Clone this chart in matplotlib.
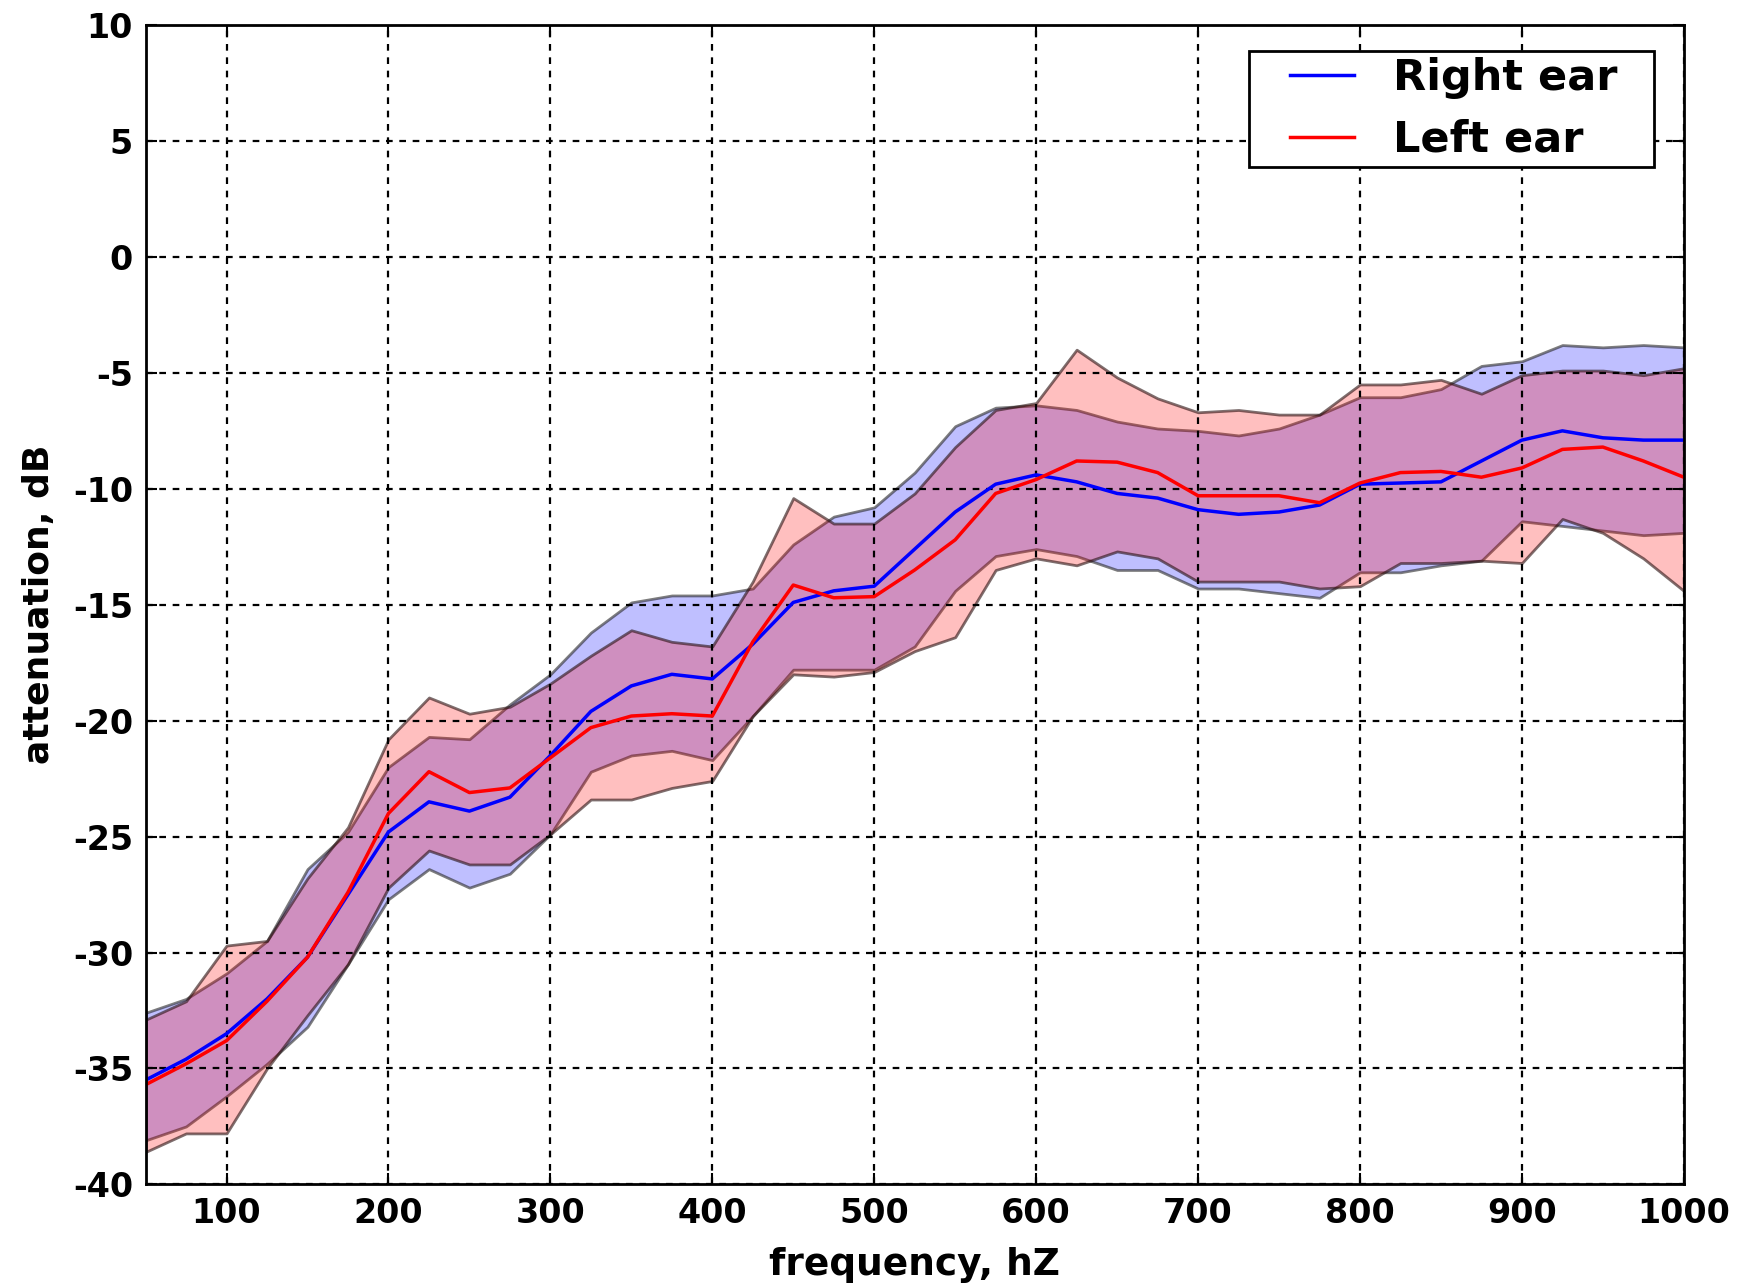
import matplotlib
matplotlib.use('Agg')
import matplotlib.pyplot as plt
from matplotlib.lines import Line2D
from matplotlib.legend_handler import HandlerLine2D

# frequency grid, hZ
freq = list(range(50, 1001, 25))

right_mean = [-35.5, -34.6, -33.5, -32.0, -30.2, -27.5, -24.8, -23.5, -23.9, -23.3,
              -21.5, -19.6, -18.5, -18.0, -18.2, -16.7, -14.9, -14.4, -14.2, -12.6,
              -11.0, -9.8, -9.4, -9.7, -10.2, -10.4, -10.9, -11.1, -11.0, -10.7,
              -9.8, -9.75, -9.7, -8.8, -7.9, -7.5, -7.8, -7.9, -7.9]
right_upper = [-32.6, -32.0, -30.9, -29.5, -26.4, -24.8, -22.0, -20.7, -20.8, -19.3,
               -18.0, -16.2, -14.9, -14.6, -14.6, -14.3, -12.4, -11.2, -10.8, -9.3,
               -7.3, -6.5, -6.4, -6.6, -7.1, -7.4, -7.5, -7.7, -7.4, -6.8,
               -6.05, -6.05, -5.7, -4.7, -4.5, -3.8, -3.9, -3.8, -3.9]
right_lower = [-38.1, -37.5, -36.2, -34.8, -33.2, -30.5, -27.7, -26.4, -27.2, -26.6,
               -24.9, -22.2, -21.5, -21.3, -21.7, -19.8, -17.8, -17.8, -17.8, -16.8,
               -14.4, -12.9, -12.6, -12.9, -13.5, -13.5, -14.3, -14.3, -14.5, -14.7,
               -13.6, -13.6, -13.3, -13.1, -11.4, -11.6, -11.8, -12.0, -11.9]

left_mean = [-35.7, -34.8, -33.8, -32.1, -30.2, -27.4, -24.0, -22.2, -23.1, -22.9,
             -21.6, -20.3, -19.8, -19.7, -19.8, -16.6, -14.15, -14.7, -14.65, -13.5,
             -12.2, -10.2, -9.6, -8.8, -8.85, -9.3, -10.3, -10.3, -10.3, -10.6,
             -9.75, -9.3, -9.25, -9.5, -9.1, -8.3, -8.2, -8.8, -9.5]
left_upper = [-32.9, -32.1, -29.7, -29.5, -26.8, -24.6, -20.8, -19.0, -19.7, -19.4,
              -18.4, -17.2, -16.1, -16.6, -16.8, -14.0, -10.4, -11.5, -11.5, -10.2,
              -8.2, -6.6, -6.3, -4.0, -5.2, -6.1, -6.7, -6.6, -6.8, -6.8,
              -5.5, -5.5, -5.3, -5.9, -5.1, -4.9, -4.9, -5.1, -4.8]
left_lower = [-38.6, -37.8, -37.8, -35.0, -32.7, -30.5, -27.2, -25.6, -26.2, -26.2,
              -24.9, -23.4, -23.4, -22.9, -22.6, -19.8, -18.0, -18.1, -17.9, -17.0,
              -16.4, -13.5, -13.0, -13.3, -12.7, -13.0, -14.0, -14.0, -14.0, -14.3,
              -14.2, -13.2, -13.2, -13.1, -13.2, -11.3, -11.9, -13.0, -14.4]

plt.rcParams['font.family'] = 'DejaVu Sans'
plt.rcParams['font.weight'] = 'bold'
plt.rcParams['axes.unicode_minus'] = False

fig = plt.figure(figsize=(17.54, 12.86), dpi=100)
ax = fig.add_axes([0.083, 0.079, 0.877, 0.9015])

ax.fill_between(freq, right_lower, right_upper, facecolor=(0, 0, 1, 0.25),
                edgecolor=(0.15, 0.15, 0.15, 0.6), linewidth=2)
ax.fill_between(freq, left_lower, left_upper, facecolor=(1, 0, 0, 0.25),
                edgecolor=(0.15, 0.05, 0.05, 0.6), linewidth=2)
ax.plot(freq, right_mean, color='blue', lw=2.5, label='Right ear  ')
ax.plot(freq, left_mean, color='red', lw=2.5, label='Left ear  ')

ax.set_xlim(50, 1000)
ax.set_ylim(-40, 10)
ax.set_xticks(range(100, 1001, 100))
ax.set_yticks(range(-40, 11, 5))
ax.grid(True, color='black', linestyle=(0, (3, 3)), linewidth=1.6)
ax.tick_params(axis='both', direction='in', top=True, right=True, length=8,
               width=1.5, labelsize=24, pad=9)
for s in ax.spines.values():
    s.set_linewidth(2)
ax.set_xlabel('frequency, hZ', size=27, fontweight='bold', labelpad=12)
ax.set_ylabel('attenuation, dB', size=26, fontweight='bold', labelpad=12)

leg = ax.legend(loc='upper right', fontsize=31, fancybox=False, framealpha=1,
                edgecolor='black', numpoints=2, handlelength=3.1,
                handletextpad=0.1, borderpad=0.15, labelspacing=0.46,
                borderaxespad=0, bbox_to_anchor=(0.9805, 0.978),
                handler_map={Line2D: HandlerLine2D(marker_pad=0.8)})
leg.get_frame().set_linewidth(2)

fig.savefig('out.png', dpi=100)
